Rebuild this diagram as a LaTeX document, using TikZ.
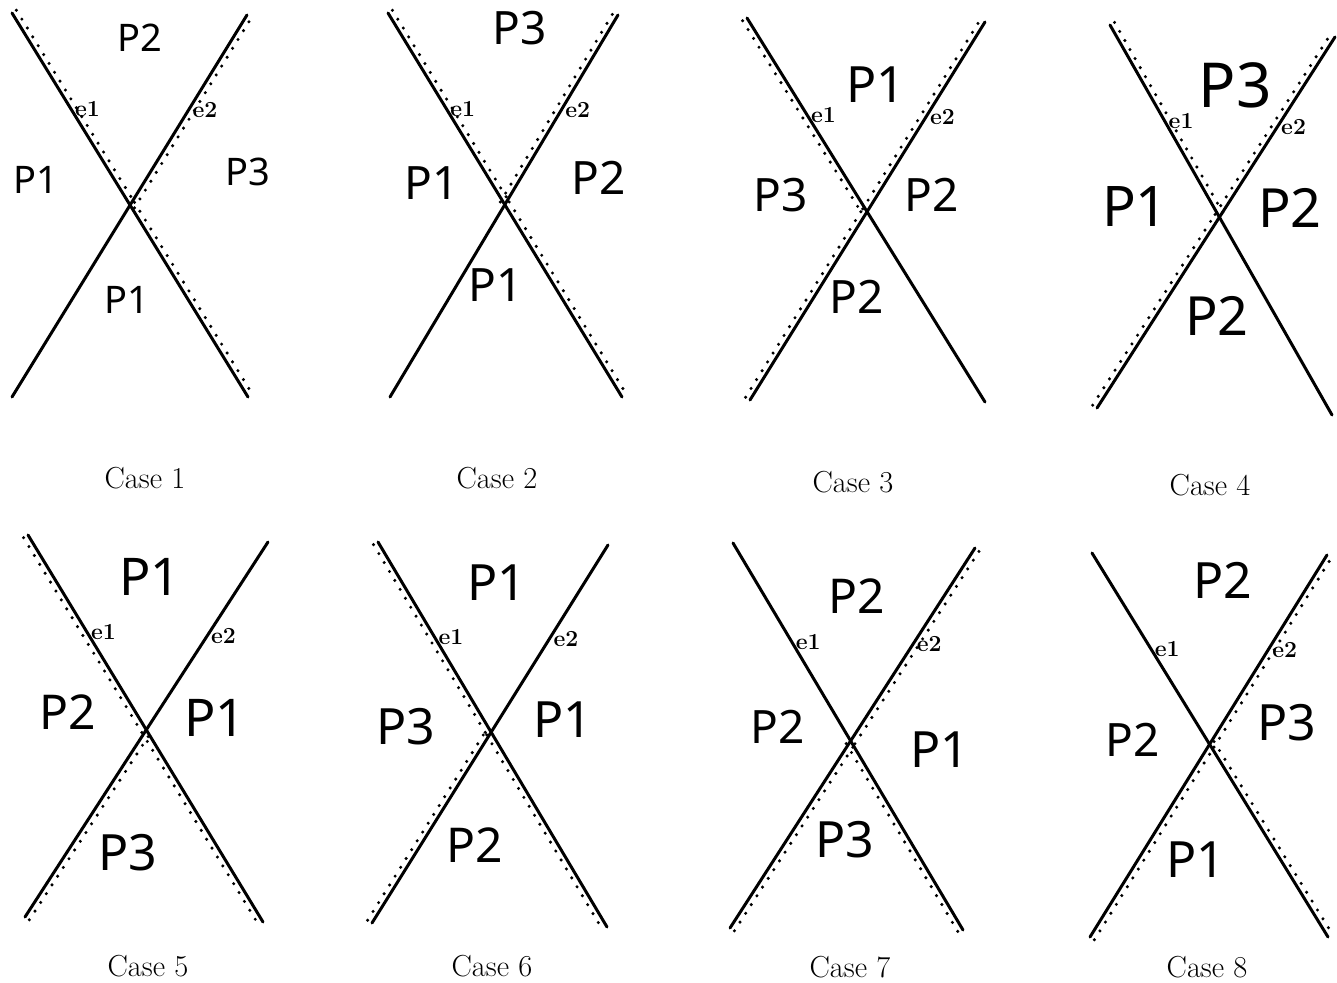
\documentclass[tikz,border=0pt]{standalone}
\usepackage{fontspec}
\newfontfamily\handfont{Noto Sans}
\usetikzlibrary{calc}

% offset of the dotted companion line from its edge
\newcommand\doff{2.6pt}

% one crossing: e1 runs from (a) down to (b), e2 from (c) up to (d)
\newcommand\xcross[5]{%
  \coordinate (a#1) at (#2);
  \coordinate (b#1) at (#3);
  \coordinate (c#1) at (#4);
  \coordinate (d#1) at (#5);
  \coordinate (x#1) at (intersection of a#1--b#1 and c#1--d#1);
  \draw[edge] (a#1) -- (b#1);
  \draw[edge] (c#1) -- (d#1);
  \node[elab] (ea#1) at ($(a#1)!0.5!(x#1)$) {e1};
  \node[elab] (eb#1) at ($(d#1)!0.5!(x#1)$) {e2};
}
% dotted line beside the segment from #1 to #2, on the side given by the angles
\newcommand\dseg[4]{%
  \draw[dotl] ($(#1)!\doff!#3:(#2)$) -- ($(#2)!\doff!#4:(#1)$);
}

\begin{document}
\begin{tikzpicture}[x=0.5pt,y=-0.5pt,
  edge/.style={line width=1.5pt,line cap=round},
  dotl/.style={line width=1.7pt,line cap=round,dash pattern=on 0pt off 5.2pt},
  elab/.style={anchor=west,inner sep=1.8pt,font=\bfseries\fontsize{11.5}{13}\selectfont},
  caselab/.style={inner sep=1pt,font=\fontsize{15.2}{17}\selectfont},
  plab/.style={font=\handfont\fontsize{#1}{#1}\selectfont}]
\useasboundingbox (0,0) rectangle (1337,983);

% ---------- Case 1 ----------
\xcross{1}{12,13}{248,397}{12,397}{247,15}
\dseg{a1}{x1}{90}{-90}
\dseg{x1}{b1}{90}{-90}
\dseg{x1}{d1}{-90}{90}
\node[plab=19] (p1t) at (140,38) {P2};
\node[plab=19] (p1l) at (36,180) {P1};
\node[plab=19] (p1r) at (248,172) {P3};
\node[plab=19] (p1b) at (127,300) {P1};
\node[caselab] (k1) at (145,478) {Case 1};

% ---------- Case 2 ----------
\xcross{2}{388,13}{622,397}{390,397}{618,15}
\dseg{a2}{x2}{90}{-90}
\dseg{x2}{b2}{90}{-90}
\dseg{x2}{d2}{90}{-90}
\node[plab=23] (p2t) at (520,28) {P3};
\node[plab=23] (p2l) at (432,183) {P1};
\node[plab=23] (p2r) at (599,178) {P2};
\node[plab=23] (p2b) at (496,285) {P1};
\node[caselab] (k2) at (497,478) {Case 2};

% ---------- Case 3 ----------
\xcross{3}{747,18}{985,402}{750,400}{985,22}
\dseg{a3}{x3}{-90}{90}
\dseg{x3}{d3}{90}{-90}
\dseg{c3}{x3}{90}{-90}
\node[plab=25] (p3t) at (876,85) {P1};
\node[plab=23] (p3l) at (781,195) {P3};
\node[plab=23] (p3r) at (932,195) {P2};
\node[plab=23] (p3b) at (857,297) {P2};
\node[caselab] (k3) at (853,482) {Case 3};

% ---------- Case 4 ----------
\xcross{4}{1110,25}{1332,415}{1097,408}{1335,37}
\dseg{a4}{x4}{90}{-90}
\dseg{x4}{d4}{90}{-90}
\dseg{c4}{x4}{90}{-90}
\node[plab=31] (p4t) at (1235,85) {P3};
\node[plab=28] (p4l) at (1135,207) {P1};
\node[plab=27] (p4r) at (1290,208) {P2};
\node[plab=27] (p4b) at (1217,316) {P2};
\node[caselab] (k4) at (1210,485) {Case 4};

% ---------- Case 5 ----------
\xcross{5}{28,535}{263,922}{25,917}{268,542}
\dseg{a5}{x5}{-90}{90}
\dseg{x5}{b5}{-90}{90}
\dseg{c5}{x5}{-90}{90}
\node[plab=26] (p5t) at (150,577) {P1};
\node[plab=24] (p5l) at (68,712) {P2};
\node[plab=26] (p5r) at (215,718) {P1};
\node[plab=25] (p5b) at (128,853) {P3};
\node[caselab] (k5) at (148,966) {Case 5};

% ---------- Case 6 ----------
\xcross{6}{378,542}{607,927}{372,923}{608,545}
\dseg{a6}{x6}{-90}{90}
\dseg{x6}{b6}{-90}{90}
\dseg{c6}{x6}{90}{-90}
\node[plab=25] (p6t) at (497,583) {P1};
\node[plab=25] (p6l) at (406,727) {P3};
\node[plab=25] (p6r) at (563,720) {P1};
\node[plab=24] (p6b) at (475,845) {P2};
\node[caselab] (k6) at (492,966) {Case 6};

% ---------- Case 7 ----------
\xcross{7}{733,543}{963,930}{730,928}{975,548}
\dseg{x7}{d7}{-90}{90}
\dseg{c7}{x7}{-90}{90}
\dseg{x7}{b7}{-90}{90}
\node[plab=24] (p7t) at (857,596) {P2};
\node[plab=23] (p7l) at (778,727) {P2};
\node[plab=25] (p7r) at (940,750) {P1};
\node[plab=25] (p7b) at (845,840) {P3};
\node[caselab] (k7) at (850,967) {Case 7};

% ---------- Case 8 ----------
\xcross{8}{1092,553}{1328,937}{1090,937}{1327,555}
\dseg{x8}{d8}{-90}{90}
\dseg{x8}{b8}{90}{-90}
\dseg{c8}{x8}{-90}{90}
\node[plab=25] (p8t) at (1223,580) {P2};
\node[plab=23] (p8l) at (1133,740) {P2};
\node[plab=25] (p8r) at (1287,723) {P3};
\node[plab=25] (p8b) at (1196,860) {P1};
\node[caselab] (k8) at (1207,967) {Case 8};
\end{tikzpicture}
\end{document}
